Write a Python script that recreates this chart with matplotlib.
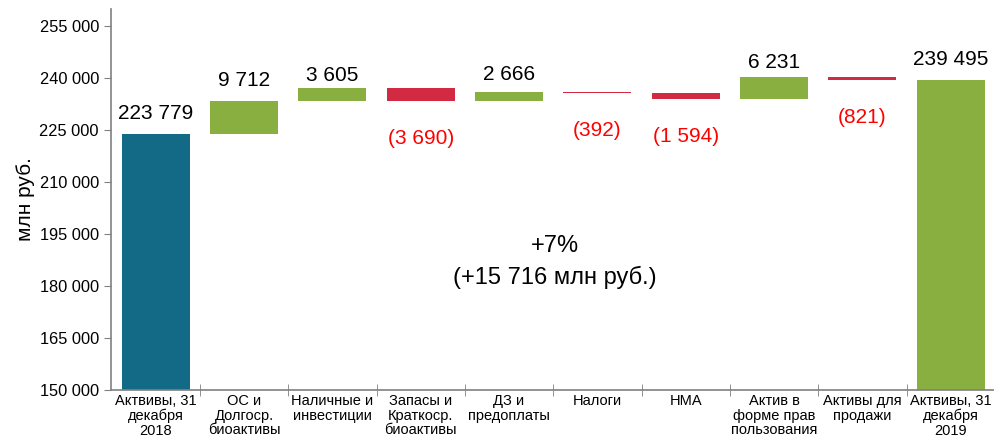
import matplotlib
matplotlib.use("Agg")
import matplotlib.pyplot as plt
import numpy as np

plt.rcParams['font.family'] = ['Liberation Sans', 'DejaVu Sans']

categories = ["Актвивы, 31\nдекабря\n2018", "ОС и\nДолгоср.\nбиоактивы", "Наличные и\nинвестиции",
              "Запасы и\nКраткоср.\nбиоактивы", "ДЗ и\nпредоплаты", "Налоги", "НМА",
              "Актив в\nформе прав\nпользования", "Активы для\nпродажи", "Актвивы, 31\nдекабря\n2019"]
start_value = 223779
changes = [9712, 3605, -3690, 2666, -392, -1594, 6231, -821]
end_value = 239495
labels = ["223 779", "9 712", "3 605", "(3 690)", "2 666", "(392)", "(1 594)", "6 231", "(821)", "239 495"]
yticks = [150000, 165000, 180000, 195000, 210000, 225000, 240000, 255000]
ytick_labels = ["150 000", "165 000", "180 000", "195 000", "210 000", "225 000", "240 000", "255 000"]
note = "+7%\n(+15 716 млн руб.)"

# label offsets (points) above bar tops, per category (layout only)
pos_offsets = [10.8, 10.8, 5.5, 0, 8.6, 0, 0, 6.5, 0, 10.8]
neg_offset = -20

TEAL = "#126A86"
GREEN = "#8AAF41"
RED = "#D12A42"

fig = plt.figure(figsize=(9.95, 4.42), dpi=100)
ax = fig.add_axes([0.112, 0.1176, 0.888, 0.862])
ymin, ymax = 150000, 260000
width = 0.77


def pos_label(i, y):
    ax.annotate(labels[i], (i, y), xytext=(0, pos_offsets[i]), textcoords="offset points",
                ha="center", va="baseline", fontsize=15, color="black")


ax.bar(0, start_value - ymin, bottom=ymin, width=width, color=TEAL)
pos_label(0, start_value)

level = start_value
for i, ch in enumerate(changes, start=1):
    bottom = level if ch > 0 else level + ch
    color = GREEN if ch > 0 else RED
    ax.bar(i, abs(ch), bottom=bottom, width=width, color=color)
    if ch > 0:
        pos_label(i, level + ch)
    else:
        ax.annotate(labels[i], (i, level + ch), xytext=(0, neg_offset), textcoords="offset points",
                    ha="center", va="top", fontsize=15, color="#FF0000")
    level += ch

n = len(categories) - 1
ax.bar(n, end_value - ymin, bottom=ymin, width=width, color=GREEN)
pos_label(n, end_value)

ax.text(4.52, 186900, note, ha="center", va="center", fontsize=17, linespacing=1.48)

ax.set_xlim(-0.5, len(categories) - 0.5)
ax.set_ylim(ymin, ymax)
ax.set_yticks(yticks)
ax.set_yticklabels(ytick_labels, fontsize=11.8)
ax.set_xticks(np.arange(len(categories)))
ax.set_xticklabels(categories, fontsize=10.5, linespacing=1.05)
ax.set_xticks(np.arange(len(categories)) + 0.5, minor=True)
ax.tick_params(axis="x", which="major", length=0, pad=3)
ax.tick_params(axis="x", which="minor", length=8, direction="inout", color="#808080")
ax.tick_params(axis="y", length=5, direction="out", color="#808080", pad=4)
ax.set_ylabel("млн руб.", fontsize=15, labelpad=3)

for s in ["top", "right"]:
    ax.spines[s].set_visible(False)
for s in ["left", "bottom"]:
    ax.spines[s].set_color("#808080")
    ax.spines[s].set_linewidth(1.2)

fig.savefig("out.png", dpi=100)
